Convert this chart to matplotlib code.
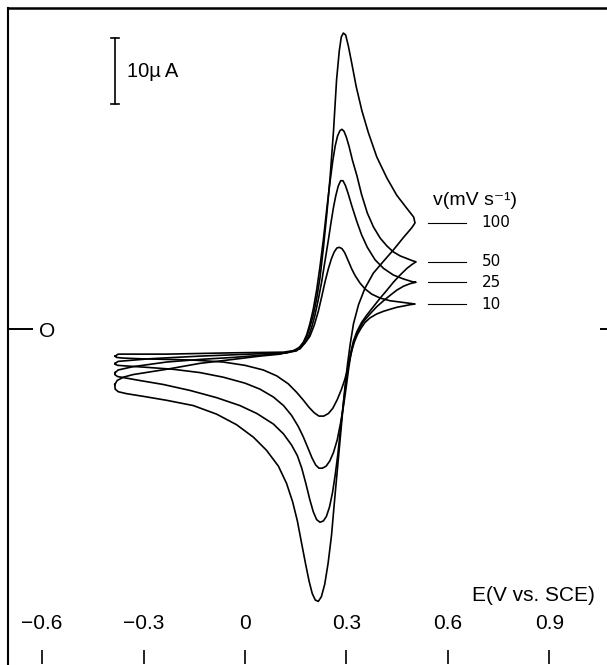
import matplotlib
matplotlib.use('agg')
import matplotlib.pyplot as plt

plt.rcParams['font.family'] = ['Liberation Sans', 'DejaVu Sans']

# potential (V vs SCE) and current (uA), left vertex -> forward -> right vertex -> reverse
e_100 = [-0.385, -0.378, -0.360, -0.331, -0.232, -0.133, -0.035, 0.044, 0.104, 0.143, 0.163,
         0.173, 0.183, 0.192, 0.202, 0.212, 0.222, 0.232, 0.242, 0.252, 0.262, 0.271, 0.279,
         0.285, 0.291, 0.298, 0.306, 0.316, 0.329, 0.346, 0.365, 0.390, 0.420, 0.449, 0.479,
         0.499, 0.503,
         0.494, 0.469, 0.439, 0.410, 0.380, 0.355, 0.336, 0.321, 0.311, 0.303, 0.296, 0.289,
         0.281, 0.273, 0.264, 0.256, 0.246, 0.236, 0.226, 0.217, 0.208, 0.199, 0.190, 0.180,
         0.168, 0.155, 0.141, 0.123, 0.099, 0.064, 0.025, -0.025, -0.084, -0.153, -0.232,
         -0.301, -0.350, -0.375, -0.384, -0.385]
i_100 = [-8.4, -7.8, -7.3, -6.9, -6.1, -5.2, -4.6, -4.1, -3.8, -3.3, -2.7,
         -2.0, -1.1, 0.3, 2.1, 4.6, 7.8, 12.3, 17.4, 23.1, 30.1, 37.8, 42.2,
         44.3, 44.9, 44.6, 42.9, 40.3, 36.8, 33.1, 29.8, 26.1, 22.9, 20.3, 18.3,
         17.0, 16.1,
         15.4, 13.9, 12.0, 10.3, 8.5, 6.2, 3.7, 0.8, -2.4, -5.5, -8.7, -12.5,
         -17.0, -21.5, -26.6, -31.3, -35.5, -38.7, -40.6, -41.3, -41.1, -40.1, -38.3, -35.8,
         -32.6, -29.1, -26.2, -23.4, -20.8, -18.4, -16.4, -14.5, -12.9, -11.6, -10.8,
         -10.2, -9.8, -9.5, -9.1, -8.4]

e_50 = [-0.384, -0.375, -0.331, -0.232, -0.133, -0.035, 0.064, 0.123, 0.153, 0.173, 0.183,
        0.192, 0.202, 0.212, 0.222, 0.232, 0.242, 0.252, 0.260, 0.267, 0.274, 0.281, 0.287,
        0.293, 0.300, 0.308, 0.318, 0.331, 0.345, 0.362, 0.380, 0.400, 0.420, 0.439, 0.459,
        0.479, 0.494, 0.506,
        0.494, 0.479, 0.459, 0.439, 0.420, 0.400, 0.380, 0.360, 0.345, 0.331, 0.321, 0.313,
        0.306, 0.299, 0.291, 0.283, 0.275, 0.267, 0.259, 0.250, 0.241, 0.232, 0.222, 0.212,
        0.202, 0.192, 0.180, 0.168, 0.155, 0.138, 0.114, 0.084, 0.035, -0.015, -0.084,
        -0.163, -0.242, -0.311, -0.355, -0.377, -0.385, -0.384]
i_50 = [-6.6, -6.2, -5.7, -5.0, -4.6, -4.3, -3.9, -3.6, -3.3, -2.0, -0.8,
        0.8, 3.0, 5.9, 9.5, 13.6, 18.2, 22.5, 25.6, 27.8, 29.3, 30.1, 30.3,
        30.0, 29.1, 27.7, 25.6, 23.3, 20.4, 17.6, 15.5, 13.8, 12.6, 11.7, 11.1,
        10.7, 10.4, 10.2,
        9.8, 9.2, 8.2, 7.1, 5.9, 4.7, 3.4, 2.1, 1.0, -0.4, -1.8, -3.6,
        -5.5, -8.0, -11.3, -15.0, -18.9, -22.1, -24.8, -27.0, -28.4, -29.1, -29.3, -28.9,
        -27.7, -25.9, -23.4, -21.1, -19.2, -17.6, -15.9, -14.4, -12.8, -11.6, -10.4,
        -9.3, -8.4, -7.8, -7.4, -7.2, -6.9, -6.6]

e_25 = [-0.384, -0.375, -0.281, -0.133, 0.015, 0.123, 0.163, 0.178, 0.188, 0.198, 0.207,
        0.217, 0.227, 0.237, 0.247, 0.255, 0.262, 0.269, 0.276, 0.283, 0.290, 0.297, 0.305,
        0.316, 0.331, 0.345, 0.362, 0.385, 0.410, 0.439, 0.469, 0.494, 0.506,
        0.489, 0.469, 0.449, 0.429, 0.410, 0.390, 0.370, 0.350, 0.336, 0.326, 0.319, 0.313,
        0.307, 0.300, 0.292, 0.283, 0.273, 0.262, 0.251, 0.240, 0.229, 0.219, 0.209, 0.198,
        0.186, 0.173, 0.158, 0.138, 0.114, 0.084, 0.044, 0.000, -0.064, -0.133, -0.212,
        -0.291, -0.350, -0.377, -0.385, -0.384]
i_25 = [-5.2, -4.9, -4.5, -4.1, -3.8, -3.6, -3.0, -2.0, -1.1, 0.4, 2.1,
        4.5, 7.2, 10.4, 13.6, 16.3, 18.5, 20.3, 21.7, 22.5, 22.5, 21.8, 20.6,
        18.7, 16.3, 14.3, 12.4, 10.5, 9.2, 8.2, 7.6, 7.2, 7.1,
        6.9, 6.5, 5.9, 5.1, 4.3, 3.4, 2.3, 1.1, -0.1, -1.3, -2.4, -3.9,
        -5.9, -8.6, -11.5, -14.2, -16.8, -18.7, -20.0, -20.8, -21.1, -21.1, -20.6, -19.5,
        -18.0, -16.4, -14.8, -13.1, -11.6, -10.3, -9.1, -8.2, -7.3, -6.6, -6.1,
        -5.8, -5.6, -5.5, -5.3, -5.2]

e_10 = [-0.384, -0.375, -0.232, -0.035, 0.114, 0.153, 0.163, 0.178, 0.192, 0.205, 0.217,
        0.227, 0.237, 0.247, 0.256, 0.264, 0.272, 0.279, 0.287, 0.295, 0.306, 0.316, 0.326,
        0.340, 0.355, 0.375, 0.400, 0.429, 0.459, 0.489, 0.503,
        0.489, 0.469, 0.449, 0.429, 0.410, 0.390, 0.370, 0.355, 0.343, 0.333, 0.324, 0.317,
        0.310, 0.303, 0.295, 0.285, 0.273, 0.260, 0.247, 0.233, 0.219, 0.205, 0.190, 0.173,
        0.153, 0.128, 0.094, 0.054, 0.000, -0.064, -0.153, -0.232, -0.311, -0.360, -0.380,
        -0.384]
i_10 = [-4.1, -3.8, -3.8, -3.6, -3.5, -3.2, -2.9, -2.1, -1.1, 0.6, 2.7,
        4.9, 7.2, 9.2, 10.7, 11.7, 12.3, 12.4, 12.2, 11.6, 10.3, 9.1, 8.1,
        7.0, 6.1, 5.3, 4.7, 4.3, 4.1, 3.9, 3.8,
        3.7, 3.5, 3.3, 3.0, 2.7, 2.3, 1.7, 1.0, 0.1, -0.8, -1.9, -3.1,
        -4.6, -6.2, -7.7, -9.2, -10.7, -12.0, -12.8, -13.2, -13.2, -12.7, -11.9, -10.8,
        -9.6, -8.3, -7.1, -6.2, -5.5, -5.0, -4.7, -4.6, -4.5, -4.4, -4.3,
        -4.1]

rates = ['100', '50', '25', '10']
curves = [(e_100, i_100), (e_50, i_50), (e_25, i_25), (e_10, i_10)]
xticks = [-0.6, -0.3, 0, 0.3, 0.6, 0.9]
xticklabels = ['\u22120.6', '\u22120.3', '0', '0.3', '0.6', '0.9']

fig = plt.figure(figsize=(6.07, 6.65), dpi=100)
ax = fig.add_axes([8 / 607, 1 / 665, 1 - 8 / 607, 656 / 665])

for e, i in curves:
    ax.plot(e, i, color='black', lw=1.2, solid_joinstyle='round')

ax.set_xlim(-0.701, 1.071)
ax.set_ylim(-50.8, 48.7)

for s in ['right', 'bottom']:
    ax.spines[s].set_visible(False)
ax.spines['top'].set_linewidth(1.8)
ax.spines['left'].set_linewidth(1.5)

ax.set_xticks(xticks)
ax.set_xticklabels(xticklabels)
ax.tick_params(axis='x', direction='in', length=10, width=1.2, labelsize=15, pad=-36)
ax.set_yticks([0])
ax.set_yticklabels(['O'])
ax.tick_params(axis='y', direction='in', length=18, width=1.4, labelsize=15, pad=-34)

# short zero mark on the right edge
ax2 = ax.twinx()
ax2.set_ylim(ax.get_ylim())
ax2.set_yticks([0])
ax2.set_yticklabels([''])
ax2.tick_params(axis='y', direction='in', length=5, width=1.4)
for s in ax2.spines.values():
    s.set_visible(False)

# scale bar 10 uA
ax.plot([-0.385, -0.385], [34.1, 44.1], color='black', lw=1.2)
ax.plot([-0.397, -0.373], [44.1, 44.1], color='black', lw=1.2)
ax.plot([-0.397, -0.373], [34.1, 34.1], color='black', lw=1.2)
ax.text(-0.35, 39.1, '10\u00b5\u2009A', fontsize=14.5, va='center', ha='left')

# scan-rate key, each line at the level of its curve's switching point
ax.text(0.555, 19.5, 'v(mV s\u207b\u00b9)', fontsize=14, va='center', ha='left')
for (e, i), r in zip(curves, rates):
    k = e.index(max(e))
    ax.plot([0.540, 0.655], [i[k], i[k]], color='black', lw=0.8)
    ax.text(0.700, i[k], r, fontsize=11, va='center', ha='left', family='DejaVu Sans')

ax.text(0.98, 0.105, 'E(V vs. SCE)', transform=ax.transAxes, fontsize=15, ha='right', va='center')

fig.savefig('out.png', dpi=100)
